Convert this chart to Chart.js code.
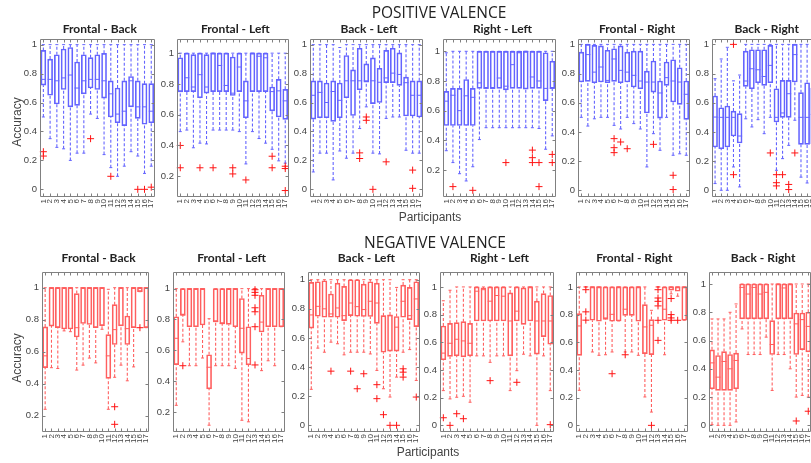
<!DOCTYPE html>
<html><head><meta charset="utf-8">
<script src="https://cdn.jsdelivr.net/npm/chart.js@4"></script>
<style>
html,body{margin:0;padding:0;background:#fff;width:811px;height:463px;overflow:hidden;position:relative}
canvas{position:absolute}
.t{position:absolute;white-space:nowrap;transform:translate(-50%,-50%);color:#333;font-family:"Liberation Sans",Arial,sans-serif}
.sec{font-family:"Open Sans",sans-serif;font-size:15.5px;color:#222}
.pt{font-family:Lato,sans-serif;font-weight:bold;font-size:12px;color:#222}
.ax{font-size:12px;color:#444}
.rot{transform:translate(-50%,-50%) rotate(-90deg)}
</style></head><body>
<script>
const participants = ['1','2','3','4','5','6','7','8','9','10','11','12','13','14','15','16','17'];
const yTickValues = [0, 0.2, 0.4, 0.6, 0.8, 1];
const yTickLabels = ['0', '0.2', '0.4', '0.6', '0.8', '1'];
const panelTitles = ['Frontal - Back', 'Frontal - Left', 'Back - Left', 'Right - Left', 'Frontal - Right', 'Back - Right'];

// ---------- POSITIVE VALENCE ----------
const posFB_lo  = [0.50,0.35,0.29,0.28,0.20,0.25,0.25,0.52,0.49,0.24,0.15,0.09,0.16,0.26,0.23,0.11,0.16];
const posFB_q1  = [0.72,0.65,0.59,0.69,0.57,0.58,0.66,0.70,0.69,0.63,0.50,0.46,0.44,0.57,0.49,0.45,0.46];
const posFB_med = [0.76,0.76,0.75,0.77,0.79,0.70,0.75,0.76,0.76,0.75,0.66,0.52,0.54,0.75,0.57,0.57,0.54];
const posFB_q3  = [0.96,0.90,0.93,0.97,0.98,0.88,0.93,0.91,0.93,0.94,0.75,0.70,0.75,0.78,0.75,0.73,0.73];
const posFB_hi  = [1,1,1,1,1,1,1,1,1,1,1,1,1,1,1,1,1];
const posFB_out = [[1,0.26],[1,0.23],[8,0.35],[11,0.09],[15,0.0],[16,0.0],[17,0.015]];

const posFL_lo  = [0.49,0.50,0.385,0.415,0.41,0.50,0.50,0.50,0.50,0.49,0.28,0.49,0.445,0.415,0.375,0.30,0.285];
const posFL_q1  = [0.75,0.75,0.75,0.71,0.74,0.75,0.75,0.75,0.725,0.75,0.58,0.75,0.75,0.75,0.625,0.585,0.57];
const posFL_med = [0.75,0.84,0.78,0.86,0.78,1.00,0.92,0.79,0.74,0.91,0.69,1.00,0.98,0.97,0.75,0.755,0.69];
const posFL_q3  = [0.97,1,0.99,1,0.99,1,1,1,0.975,1,0.82,1,1,1,0.78,0.83,0.765];
const posFL_hi  = [1,1,1,1,1,1,1,1,1,1,1,1,1,1,1,1,1];
const posFL_out = [[1,0.40],[1,0.255],[4,0.255],[6,0.255],[9,0.255],[9,0.215],[11,0.176],[15,0.33],[15,0.255],[17,0.265],[17,0.25],[17,0.107]];

const posBL_lo  = [0.12,0.25,0.25,0.065,0.265,0.215,0.25,0.42,0.57,0.25,0.245,0.49,0.50,0.50,0.27,0.25,0.25];
const posBL_q1  = [0.485,0.495,0.495,0.47,0.495,0.633,0.51,0.688,0.74,0.592,0.60,0.737,0.737,0.718,0.507,0.507,0.50];
const posBL_med = [0.65,0.67,0.60,0.676,0.615,0.75,0.75,0.75,0.75,0.75,0.74,0.77,0.803,0.794,0.737,0.65,0.65];
const posBL_q3  = [0.75,0.75,0.735,0.75,0.735,0.925,0.825,0.975,0.867,0.908,0.837,0.96,0.975,0.943,0.775,0.75,0.75];
const posBL_hi  = [1,1,1,1,0.98,1,1,1,1,1,1,1,1,1,1,1,1];
const posBL_out = [[8,0.252],[8,0.213],[9,0.50],[9,0.477],[10,0.0],[12,0.19],[16,0.133],[16,0.007]];

const posRL_lo  = [0.33,0.25,0.175,0.126,0.222,0.405,0.485,0.485,0.485,0.485,0.485,0.485,0.485,0.485,0.48,0.34,0.43];
const posRL_q1  = [0.50,0.50,0.50,0.50,0.50,0.75,0.75,0.75,0.75,0.74,0.75,0.75,0.745,0.75,0.75,0.668,0.75];
const posRL_med = [0.664,0.704,0.60,0.70,0.69,0.787,0.75,0.75,0.82,0.765,0.91,0.99,1.0,0.827,0.80,0.75,0.75];
const posRL_q3  = [0.73,0.75,0.75,0.81,0.75,1,1,1,1,1,1,1,1,1,1,0.99,0.933];
const posRL_hi  = [0.99,1,1,1,1,1,1,1,1,1,1,1,1,1,1,1,1];
const posRL_out = [[2,0.088],[5,0.063],[10,0.25],[14,0.334],[14,0.283],[14,0.25],[15,0.25],[15,0.088],[17,0.305],[17,0.25]];

const posFR_lo  = [0.50,0.44,0.49,0.50,0.50,0.445,0.42,0.50,0.457,0.42,0.16,0.388,0.274,0.50,0.24,0.25,0.24];
const posFR_q1  = [0.742,0.746,0.737,0.742,0.737,0.746,0.737,0.742,0.708,0.696,0.53,0.673,0.495,0.719,0.605,0.589,0.486];
const posFR_med = [0.746,0.93,0.81,0.845,0.753,0.90,0.822,0.81,0.788,0.749,0.742,0.742,0.667,0.772,0.749,0.742,0.658];
const posFR_q3  = [0.947,1.0,0.993,0.99,0.96,0.97,0.99,0.947,0.954,0.954,0.817,0.886,0.749,0.879,0.895,0.84,0.749];
const posFR_hi  = [1,1,1,1,1,1,1,1,1,1,1,1,1,1,1,1,1];
const posFR_out = [[6,0.354],[6,0.292],[6,0.258],[7,0.331],[8,0.285],[12,0.315],[15,0.103],[15,0.005]];

const posBR_lo  = [0.046,0.0,0.0,0.16,0.023,0.49,0.434,0.484,0.388,0.50,0.137,0.217,0.308,0.48,0.09,0.05,0.1];
const posBR_q1  = [0.297,0.285,0.297,0.372,0.324,0.712,0.696,0.737,0.719,0.737,0.468,0.50,0.50,0.742,0.315,0.315,0.32];
const posBR_med = [0.502,0.50,0.50,0.50,0.372,0.749,0.833,0.826,0.78,0.856,0.50,0.53,0.662,0.93,0.50,0.50,0.52];
const posBR_q3  = [0.646,0.566,0.578,0.543,0.525,0.954,0.963,0.963,0.963,0.993,0.696,0.753,0.753,1.0,0.669,0.737,0.70];
const posBR_hi  = [0.765,0.90,0.98,0.75,0.79,1,1,1,1,1,1,1,1,1,1,1,1];
const posBR_out = [[4,1.0],[4,0.107],[10,0.256],[11,0.107],[11,0.052],[11,0.03],[12,0.107],[13,0.04],[13,0.005],[14,0.256]];

// ---------- NEGATIVE VALENCE ----------
const negFB_lo  = [0.24,0.50,0.495,0.73,0.725,0.485,0.516,0.56,0.53,0.74,0.24,0.44,0.516,0.418,0.505,0.975,0.75];
const negFB_q1  = [0.50,0.76,0.75,0.742,0.742,0.692,0.776,0.77,0.75,0.763,0.433,0.645,0.761,0.645,0.75,0.975,0.75];
const negFB_med = [0.574,1,1,1,1,0.75,1,1,1,1,0.574,0.738,1,0.744,1,1,1];
const negFB_q3  = [0.755,1,1,1,1,0.963,1,1,1,1,0.707,0.894,1,0.823,1,1,1];
const negFB_hi  = [1,1,1,1,1,1,1,1,1,1,0.99,1,1,1,1,1,1];
const negFB_out = [[12,0.256],[12,0.146],[16,0.75]];

const negFL_lo  = [0.243,0.655,0.50,0.50,0.55,0.114,0.50,0.50,0.50,0.483,0.146,0.136,1.0,0.468,0.532,0.50,0.753];
const negFL_q1  = [0.507,0.828,0.753,0.753,0.764,0.35,0.786,0.773,0.768,0.753,0.582,0.505,1.0,0.719,0.753,0.753,0.753];
const negFL_med = [0.678,0.828,1,1,1,0.49,0.786,0.773,1,1,0.743,0.547,1.0,0.783,1,1,1];
const negFL_q3  = [0.818,1,1,1,1,0.571,1,1,1,1,0.936,0.753,1.0,0.957,1,1,1];
const negFL_hi  = [1,1,1,1,1,0.805,1,1,1,1,1,1,1,1,1,1,1];
const negFL_out = [[2,0.5],[13,0.993],[13,0.976],[13,0.957],[13,0.876],[13,0.85],[13,0.753],[13,0.505]];

const negBL_lo  = [0.247,0.53,0.502,0.571,0.56,0.484,0.502,0.502,0.502,0.49,0.377,0.251,0.194,0.331,0.502,0.52,0.308];
const negBL_q1  = [0.667,0.749,0.742,0.742,0.742,0.719,0.753,0.749,0.747,0.747,0.70,0.502,0.509,0.509,0.742,0.726,0.678];
const negBL_med = [0.758,0.817,0.80,0.765,0.806,0.753,0.84,0.815,0.795,0.852,0.84,0.749,0.753,0.674,0.852,0.753,0.868];
const negBL_q3  = [0.982,0.986,0.993,0.902,0.977,0.954,1.0,1.0,0.97,0.986,0.977,0.753,0.758,0.747,0.963,0.947,0.986];
const negBL_hi  = [1,1,1,1,1,1,1,1,1,1,1,1,1,0.947,1,1,1];
const negBL_out = [[4,0.372],[7,0.372],[8,0.251],[9,0.354],[11,0.279],[11,0.183],[12,0.073],[13,0.0],[14,0.0],[15,0.388],[15,0.365],[15,0.331],[17,0.194]];

const negRL_lo  = [0.251,0.191,0.203,0.21,0.167,0.502,0.502,0.455,0.502,0.502,0.251,0.395,0.514,0.502,0.0,0.502,0.251];
const negRL_q1  = [0.474,0.498,0.502,0.495,0.502,0.754,0.754,0.754,0.754,0.754,0.502,0.754,0.73,0.754,0.514,0.641,0.586];
const negRL_med = [0.522,0.593,0.622,0.61,0.593,0.969,0.98,0.897,0.938,0.933,0.754,0.825,0.735,1.0,0.754,0.754,0.754];
const negRL_q3  = [0.718,0.737,0.742,0.749,0.737,1.0,0.993,1,1,1,0.957,1,0.993,1,0.897,0.952,0.938];
const negRL_hi  = [0.90,0.976,1,1,1,1,1,1,1,1,1,1,1,1,1,1,1];
const negRL_out = [[1,0.055],[2,0.0],[3,0.084],[4,0.048],[8,0.323],[12,0.311],[17,0.005]];

const negFR_lo  = [0.253,1.0,0.53,0.506,0.51,0.53,0.754,0.53,0.53,0.506,0.205,0.096,1.0,0.51,0.95,0.933,0.759];
const negFR_q1  = [0.506,1.0,0.759,0.752,0.766,0.752,0.754,0.795,0.795,0.752,0.518,0.511,1.0,0.759,0.976,0.969,0.759];
const negFR_med = [0.718,1.0,1,1,0.776,0.802,1,0.839,0.80,1,0.711,0.723,1.0,0.839,1,1,1];
const negFR_q3  = [0.807,1,1,1,1,1,1,1,1,1,0.872,0.764,1,1,1,1,1];
const negFR_hi  = [1,1,1,1,1,1,1,1,1,1,1,0.831,1,1,1,1,1];
const negFR_out = [[2,0.98],[2,0.82],[2,0.76],[6,0.373],[8,0.51],[12,0.0],[13,0.98],[13,0.92],[13,0.896],[13,0.863],[13,0.759],[13,0.614],[15,0.916],[15,0.80],[15,0.776],[15,0.759],[16,0.759]];

const negBR_lo  = [0.005,0.0,0.0,0.0,0.024,0.682,0.501,0.501,0.501,0.624,0.247,0.501,0.501,0.40,0.20,0.212,0.2];
const negBR_q1  = [0.259,0.247,0.247,0.247,0.259,0.753,0.753,0.753,0.753,0.753,0.501,0.753,0.753,0.753,0.501,0.536,0.52];
const negBR_med = [0.442,0.341,0.452,0.40,0.459,0.976,0.929,0.976,0.929,0.941,0.572,1.0,0.972,1.0,0.718,0.748,0.70];
const negBR_q3  = [0.534,0.494,0.522,0.501,0.511,1,1,1,1,1,0.741,1,1,1,0.795,0.795,0.80];
const negBR_hi  = [0.753,0.753,0.753,0.80,0.859,1,1,1,1,1,1,1,1,1,1,1,1];
const negBR_out = [[15,0.031],[17,0.1]];

// axis ranges per panel (value units)
const posYRange = [[-0.053,1.041],[0.065,1.094],[-0.053,1.041],[0.018,1.085],[-0.046,1.039],[-0.046,1.039]];
const negYRange = [[0.098,1.10],[0.07,1.11],[-0.046,1.055],[-0.048,1.11],[-0.048,1.11],[-0.047,1.087]];

// layout: frame boxes [left, top, right, bottom] in page pixels
const posFrames = [[40,38,159.5,197],[176.7,38,294,197],[310,38,428,197],[443.3,38,561.7,197],[578.3,38,695.7,197],[711.7,38,821.7,197]];
const negFrames = [[42,271,155.3,432],[173.3,271,290,432],[307.7,271,425,432],[440,271,559,432],[576,271,692.7,432],[709.3,271,817,432]];

const posSets = [
  [posFB_lo,posFB_q1,posFB_med,posFB_q3,posFB_hi,posFB_out],
  [posFL_lo,posFL_q1,posFL_med,posFL_q3,posFL_hi,posFL_out],
  [posBL_lo,posBL_q1,posBL_med,posBL_q3,posBL_hi,posBL_out],
  [posRL_lo,posRL_q1,posRL_med,posRL_q3,posRL_hi,posRL_out],
  [posFR_lo,posFR_q1,posFR_med,posFR_q3,posFR_hi,posFR_out],
  [posBR_lo,posBR_q1,posBR_med,posBR_q3,posBR_hi,posBR_out]
];
const negSets = [
  [negFB_lo,negFB_q1,negFB_med,negFB_q3,negFB_hi,negFB_out],
  [negFL_lo,negFL_q1,negFL_med,negFL_q3,negFL_hi,negFL_out],
  [negBL_lo,negBL_q1,negBL_med,negBL_q3,negBL_hi,negBL_out],
  [negRL_lo,negRL_q1,negRL_med,negRL_q3,negRL_hi,negRL_out],
  [negFR_lo,negFR_q1,negFR_med,negFR_q3,negFR_hi,negFR_out],
  [negBR_lo,negBR_q1,negBR_med,negBR_q3,negBR_hi,negBR_out]
];

const AXW = 34, TOPPAD = 8, AXH = 30, RPAD = 3;

const framePlugin = {
  id: 'frame',
  afterDatasetsDraw(chart) {
    const {ctx, chartArea: a, scales: {x, y}} = chart;
    ctx.save();
    ctx.strokeStyle = '#808080';
    ctx.lineWidth = 1;
    const l = Math.round(a.left) + 0.5, r = Math.round(a.right) - 0.5;
    const t = Math.round(a.top) + 0.5, b = Math.round(a.bottom) - 0.5;
    ctx.beginPath();
    ctx.rect(l, t, r - l, b - t);
    y.ticks.forEach(tk => {
      const py = Math.round(y.getPixelForValue(tk.value)) + 0.5;
      ctx.moveTo(l, py); ctx.lineTo(l + 3, py);
      ctx.moveTo(r, py); ctx.lineTo(r - 3, py);
    });
    x.ticks.forEach(tk => {
      const px = Math.round(x.getPixelForValue(tk.value)) + 0.5;
      ctx.moveTo(px, b); ctx.lineTo(px, b - 3);
      ctx.moveTo(px, t); ctx.lineTo(px, t + 3);
    });
    ctx.stroke();
    ctx.restore();
  }
};

function makeText(txt, x, y, cls) {
  const d = document.createElement('div');
  d.className = 't ' + cls;
  d.textContent = txt;
  d.style.left = x + 'px';
  d.style.top = y + 'px';
  document.body.appendChild(d);
}

function makePanel(set, frame, yr, title, boxColor, outColor, titleY) {
  const [lo, q1, med, q3, hi, out] = set;
  const [L, T, R, B] = frame;
  const cv = document.createElement('canvas');
  const w = Math.round(R - L + AXW + RPAD), h = Math.round(B - T + TOPPAD + AXH);
  cv.width = w; cv.height = h;
  cv.style.left = Math.round(L - AXW) + 'px';
  cv.style.top = Math.round(T - TOPPAD) + 'px';
  cv.style.width = w + 'px'; cv.style.height = h + 'px';
  document.body.appendChild(cv);
  makeText(title, (L + R) / 2, titleY, 'pt');

  const boxes = participants.map((p, i) => ({x: i + 1, y: [q1[i], q3[i]]}));
  const whisk = [];
  participants.forEach((p, i) => {
    whisk.push({x: i + 1, y: lo[i]}, {x: i + 1, y: q1[i]}, {x: i + 1, y: null},
               {x: i + 1, y: q3[i]}, {x: i + 1, y: hi[i]}, {x: i + 1, y: null});
  });
  const caps = [];
  participants.forEach((p, i) => { caps.push({x: i + 1, y: lo[i]}, {x: i + 1, y: hi[i]}); });
  const meds = participants.map((p, i) => ({x: i + 1, y: med[i]}));
  const outs = out.map(o => ({x: o[0], y: o[1]}));

  new Chart(cv, {
    type: 'bar',
    data: {
      datasets: [
        {type: 'bar', data: boxes, backgroundColor: 'rgba(0,0,0,0)', borderColor: boxColor,
         borderWidth: 1, borderSkipped: false, barThickness: 5, grouped: false, order: 4},
        {type: 'line', data: whisk, borderColor: boxColor, borderWidth: 1.1, borderDash: [3, 2],
         pointRadius: 0, spanGaps: false, tension: 0, fill: false, order: 3},
        {type: 'scatter', data: caps, pointStyle: 'line', pointRadius: 1.5, borderColor: boxColor,
         pointBorderWidth: 1, order: 2},
        {type: 'scatter', data: meds, pointStyle: 'line', pointRadius: 2.5, borderColor: boxColor,
         pointBorderWidth: 1, order: 1},
        {type: 'scatter', data: outs, pointStyle: 'cross', pointRadius: 3.5, borderColor: outColor,
         pointBorderWidth: 1, clip: false, order: 0}
      ]
    },
    options: {
      responsive: false, animation: false, devicePixelRatio: 1, events: [],
      layout: {padding: {top: TOPPAD, right: RPAD, left: 0, bottom: 0}},
      plugins: {legend: {display: false}, tooltip: {enabled: false}, title: {display: false}},
      scales: {
        x: {
          type: 'linear', min: 0.5, max: participants.length + 0.5, offset: false,
          grid: {display: false, drawTicks: false}, border: {display: false},
          afterBuildTicks: ax => { ax.ticks = participants.map((p, i) => ({value: i + 1})); },
          afterFit: ax => { ax.height = AXH; },
          ticks: {autoSkip: false, minRotation: 90, maxRotation: 90, padding: 2,
                  color: '#444', font: {family: 'Liberation Sans', size: 8},
                  callback: v => participants[v - 1]}
        },
        y: {
          type: 'linear', min: yr[0], max: yr[1],
          grid: {display: false, drawTicks: false}, border: {display: false},
          afterBuildTicks: ax => { ax.ticks = yTickValues.filter(v => v >= yr[0] && v <= yr[1]).map(v => ({value: v})); },
          afterFit: ax => { ax.width = AXW; },
          ticks: {padding: 3, color: '#444', font: {family: 'Liberation Sans', size: 9.5},
                  callback: v => yTickLabels[yTickValues.indexOf(v)]}
        }
      }
    },
    plugins: [framePlugin]
  });
}

const BLUE = 'rgb(100,100,255)', RED = 'rgb(255,95,95)', OUT = 'rgb(255,20,20)';
posSets.forEach((s, k) => makePanel(s, posFrames[k], posYRange[k], panelTitles[k], BLUE, OUT, 28));
negSets.forEach((s, k) => makePanel(s, negFrames[k], negYRange[k], panelTitles[k], RED, OUT, 257));

makeText('POSITIVE VALENCE', 439, 12, 'sec');
makeText('NEGATIVE VALENCE', 435, 242, 'sec');
makeText('Participants', 430, 217, 'ax');
makeText('Participants', 428, 452, 'ax');
makeText('Accuracy', 17, 122, 'ax rot');
makeText('Accuracy', 17, 358, 'ax rot');
</script>
</body></html>
